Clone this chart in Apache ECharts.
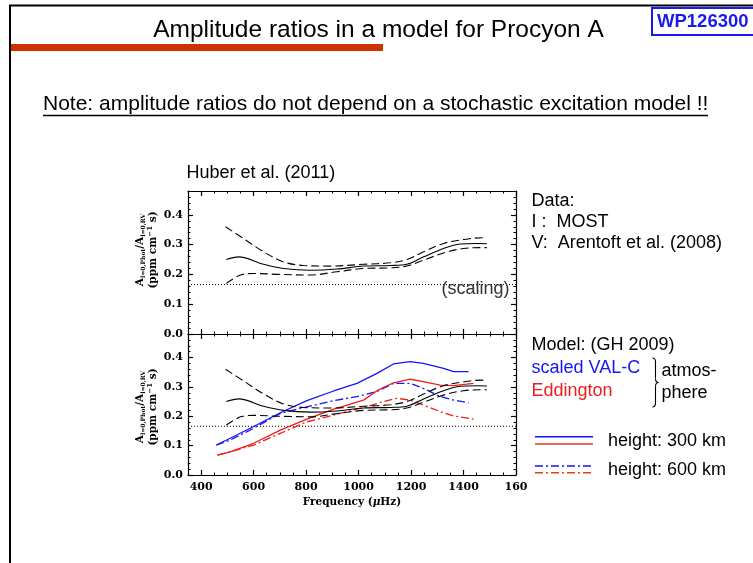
<!DOCTYPE html>
<html>
<head>
<meta charset="utf-8">
<script src="https://cdn.jsdelivr.net/npm/echarts@6/dist/echarts.min.js"></script>
<style>
html,body{margin:0;padding:0;background:#fff;}
#chart{width:753px;height:563px;}
</style>
</head>
<body>
<div id="chart"></div>
<script>
// ---------- data ----------
const xTickValues = [400, 600, 800, 1000, 1200, 1400, 1600];
const xTickLabels = ['400', '600', '800', '1000', '1200', '1400', '160'];
const yTickValues = [0.0, 0.1, 0.2, 0.3, 0.4];
const yTickLabels = ['0.0', '0.1', '0.2', '0.3', '0.4'];

// Huber et al. (2011): observed ratio (solid) and its upper/lower bounds (dashed)
const huberFreq  = [496, 543, 638, 714, 816, 918, 1019, 1121, 1184, 1248, 1324, 1387, 1451, 1489];
const huberRatio = [0.250, 0.259, 0.234, 0.220, 0.214, 0.218, 0.228, 0.230, 0.234, 0.259, 0.287, 0.302, 0.304, 0.303];
const upperFreq  = [493, 562, 638, 714, 790, 892, 1019, 1121, 1184, 1248, 1324, 1400, 1470, 1489];
const upperRatio = [0.360, 0.320, 0.276, 0.242, 0.230, 0.228, 0.234, 0.239, 0.250, 0.276, 0.304, 0.317, 0.323, 0.323];
const lowerFreq  = [496, 550, 600, 702, 816, 918, 1019, 1121, 1184, 1248, 1324, 1400, 1476, 1489];
const lowerRatio = [0.170, 0.198, 0.203, 0.200, 0.198, 0.209, 0.220, 0.222, 0.228, 0.248, 0.272, 0.287, 0.290, 0.290];

// scaling relation level
const scalingLevel = 0.166;
const scalingFreq = [350, 1600];

// Model (GH 2009)
const valc300Freq  = [458, 511, 600, 702, 803, 905, 994, 1070, 1133, 1197, 1247, 1324, 1362, 1419];
const valc300Ratio = [0.102, 0.125, 0.165, 0.212, 0.253, 0.286, 0.312, 0.346, 0.378, 0.386, 0.380, 0.363, 0.352, 0.352];
const valc600Freq  = [458, 511, 600, 702, 803, 905, 994, 1070, 1133, 1197, 1247, 1311, 1362, 1419];
const valc600Ratio = [0.102, 0.119, 0.159, 0.210, 0.232, 0.253, 0.267, 0.284, 0.312, 0.312, 0.295, 0.267, 0.255, 0.246];
const edd300Freq   = [462, 511, 600, 702, 803, 905, 1019, 1070, 1133, 1197, 1247, 1311, 1362, 1438];
const edd300Ratio  = [0.068, 0.079, 0.108, 0.153, 0.190, 0.224, 0.255, 0.287, 0.314, 0.326, 0.318, 0.306, 0.304, 0.312];
const edd600Freq   = [462, 511, 600, 702, 803, 905, 1019, 1095, 1146, 1197, 1247, 1311, 1362, 1438];
const edd600Ratio  = [0.068, 0.079, 0.102, 0.142, 0.181, 0.204, 0.230, 0.250, 0.261, 0.255, 0.238, 0.216, 0.201, 0.190];

// ---------- styling ----------
const X_MIN = 350, X_MAX = 1600, Y_MIN = 0, Y_MAX = 0.48;
const xMinor = []; for (let v = 400; v < 1600; v += 50) xMinor.push(v);
const yMinor = []; for (let i = 1; i < 24; i++) yMinor.push(+(i * 0.02).toFixed(2));
const BLUE = '#1414ff', RED = '#ee1c1c';
const SERIF = 'DejaVu Serif';
const SANS = 'Liberation Sans, Arial, sans-serif';
const TICKFONT = 11;

const grids = [
  {left: 188, top: 191, width: 328, height: 143, containLabel: false, outerBoundsMode: 'none'},
  {left: 188, top: 334, width: 328, height: 141, containLabel: false, outerBoundsMode: 'none'}
];

function xAxesFor(g, withLabels) {
  const base = {type: 'value', gridIndex: g, min: X_MIN, max: X_MAX, splitLine: {show: false}, minorTick: {show: false}};
  const line = {show: true, onZero: false, lineStyle: {color: '#000', width: 1.2}};
  return [
    Object.assign({}, base, {
      position: 'bottom', axisLine: line,
      axisTick: {show: true, inside: true, length: 5, customValues: xTickValues, lineStyle: {color: '#000', width: 1.2}},
      axisLabel: {show: withLabels, customValues: xTickValues, margin: 7, color: '#000',
        fontFamily: SERIF, fontWeight: 'bold', fontSize: TICKFONT,
        formatter: v => xTickLabels[xTickValues.indexOf(v)] || ''},
      name: withLabels ? '{a|Frequency (}{b|μ}{a|Hz)}' : '',
      nameLocation: 'middle', nameGap: 22,
      nameTextStyle: {rich: {
        a: {fontFamily: SERIF, fontWeight: 'bold', fontSize: 10.5, color: '#000'},
        b: {fontFamily: SERIF, fontWeight: 'bold', fontStyle: 'italic', fontSize: 10.5, color: '#000'}
      }}
    }),
    Object.assign({}, base, {
      position: 'bottom', axisLine: {show: false, onZero: false},
      axisTick: {show: true, inside: true, length: 2.5, customValues: xMinor, lineStyle: {color: '#000', width: 1}},
      axisLabel: {show: false}
    }),
    Object.assign({}, base, {
      position: 'top', axisLine: line,
      axisTick: {show: true, inside: true, length: 5, customValues: xTickValues, lineStyle: {color: '#000', width: 1.2}},
      axisLabel: {show: false}
    }),
    Object.assign({}, base, {
      position: 'top', axisLine: {show: false, onZero: false},
      axisTick: {show: true, inside: true, length: 2.5, customValues: xMinor, lineStyle: {color: '#000', width: 1}},
      axisLabel: {show: false}
    })
  ];
}

function yAxesFor(g) {
  const base = {type: 'value', gridIndex: g, min: Y_MIN, max: Y_MAX, splitLine: {show: false}, minorTick: {show: false}};
  const line = {show: true, onZero: false, lineStyle: {color: '#000', width: 1.2}};
  return [
    Object.assign({}, base, {
      position: 'left', axisLine: line,
      axisTick: {show: true, inside: true, length: 5, customValues: yTickValues, lineStyle: {color: '#000', width: 1.2}},
      axisLabel: {show: true, customValues: yTickValues, margin: 5, color: '#000',
        fontFamily: SERIF, fontWeight: 'bold', fontSize: TICKFONT,
        formatter: v => yTickLabels[yTickValues.indexOf(v)] || v.toFixed(1)}
    }),
    Object.assign({}, base, {
      position: 'left', axisLine: {show: false, onZero: false},
      axisTick: {show: true, inside: true, length: 2.5, customValues: yMinor, lineStyle: {color: '#000', width: 1}},
      axisLabel: {show: false}
    }),
    Object.assign({}, base, {
      position: 'right', axisLine: line,
      axisTick: {show: true, inside: true, length: 5, customValues: yTickValues, lineStyle: {color: '#000', width: 1.2}},
      axisLabel: {show: false}
    }),
    Object.assign({}, base, {
      position: 'right', axisLine: {show: false, onZero: false},
      axisTick: {show: true, inside: true, length: 2.5, customValues: yMinor, lineStyle: {color: '#000', width: 1}},
      axisLabel: {show: false}
    })
  ];
}

function curve(g, xs, ys, color, type, width, smooth) {
  return {
    type: 'line', xAxisIndex: g * 4, yAxisIndex: g * 4,
    data: xs.map((x, i) => [x, ys[i]]),
    showSymbol: false, symbol: 'none', smooth: smooth ? 0.35 : false,
    lineStyle: {color: color, width: width, type: type},
    silent: true, animation: false, z: 3
  };
}

const DASH = [8, 4], DOT = [1, 2], DASHDOT = [8, 3, 2, 3];
const series = [];
[0, 1].forEach(g => {
  series.push(curve(g, scalingFreq, [scalingLevel, scalingLevel], '#000', DOT, 1, false));
  if (g === 1) {
    series.push(curve(g, valc300Freq, valc300Ratio, BLUE, 'solid', 1.3, false));
    series.push(curve(g, valc600Freq, valc600Ratio, BLUE, DASHDOT, 1.3, false));
    series.push(curve(g, edd300Freq, edd300Ratio, RED, 'solid', 1.3, false));
    series.push(curve(g, edd600Freq, edd600Ratio, RED, DASHDOT, 1.3, false));
  }
  series.push(curve(g, huberFreq, huberRatio, '#000', 'solid', 1.1, true));
  series.push(curve(g, upperFreq, upperRatio, '#000', DASH, 1.1, true));
  series.push(curve(g, lowerFreq, lowerRatio, '#000', DASH, 1.1, true));
});

function txt(x, y, text, size, color) {
  return {
    type: 'text', x: x, y: y, silent: true, z: 10,
    style: {text: text, font: size + 'px ' + SANS, fill: color,
      align: 'left', verticalAlign: 'middle', textAlign: 'left', textVerticalAlign: 'middle'}
  };
}
function hline(x1, x2, y, color, width, dash) {
  return {type: 'line', silent: true, z: 10,
    shape: {x1: x1, y1: y, x2: x2, y2: y},
    style: {stroke: color, lineWidth: width, lineDash: dash || null}};
}
function seg(x1, y1, x2, y2, w) {
  return {type: 'line', silent: true, z: 10, shape: {x1: x1, y1: y1, x2: x2, y2: y2},
    style: {stroke: '#000', lineWidth: w || 1.1}};
}
function bez(x1, y1, cx, cy, x2, y2) {
  return {type: 'bezierCurve', silent: true, z: 10,
    shape: {x1: x1, y1: y1, cpx1: cx, cpy1: cy, x2: x2, y2: y2},
    style: {stroke: '#000', lineWidth: 1.1, fill: null}};
}
function yName(cx, cy) {
  return {
    type: 'text', x: cx, y: cy, rotation: Math.PI / 2, silent: true, z: 10,
    style: {
      text: '{a|A}{s|l=0,Phot}{a|/A}{s|l=0,RV}\n{b|(ppm cm}{p|−1}{b| s)}',
      align: 'center', verticalAlign: 'middle', textAlign: 'center', textVerticalAlign: 'middle',
      fill: '#000',
      rich: {
        a: {fontFamily: SERIF, fontWeight: 'bold', fontSize: 10.5, lineHeight: 13, fill: '#000'},
        s: {fontFamily: SERIF, fontWeight: 'bold', fontSize: 6, lineHeight: 6, verticalAlign: 'bottom', fill: '#000'},
        b: {fontFamily: SERIF, fontWeight: 'bold', fontSize: 10.5, lineHeight: 14, fill: '#000'},
        p: {fontFamily: SERIF, fontWeight: 'bold', fontSize: 7, lineHeight: 7, verticalAlign: 'top', fill: '#000'}
      }
    }
  };
}

const graphic = [
  // slide frame
  hline(9, 753, 5.5, '#000', 2),
  seg(10, 5, 10, 563, 2),
  {type: 'rect', silent: true, z: 9, shape: {x: 10, y: 44, width: 373, height: 7}, style: {fill: '#cc3300'}},
  // title
  {type: 'text', x: 378.5, y: 30, silent: true, z: 10,
    style: {text: 'Amplitude ratios in a model for Procyon A', font: '24.5px ' + SANS, fill: '#000',
      align: 'center', verticalAlign: 'middle', textAlign: 'center', textVerticalAlign: 'middle'}},
  {type: 'rect', silent: true, z: 10, shape: {x: 652, y: 8, width: 110, height: 27},
    style: {fill: '#fff', stroke: '#1a1aee', lineWidth: 2}},
  {type: 'text', x: 657, y: 22, silent: true, z: 11,
    style: {text: 'WP126300', font: 'bold 18.5px ' + SANS, fill: '#1a1aee',
      align: 'left', verticalAlign: 'middle', textAlign: 'left', textVerticalAlign: 'middle'}},
  // note
  txt(43, 104, 'Note: amplitude ratios do not depend on a stochastic excitation model !!', 21, '#000'),
  hline(43, 708, 115.5, '#000', 1.3),
  // panel caption
  txt(186.5, 173, 'Huber et al. (2011)', 18, '#000'),
  txt(441.5, 289, '(scaling)', 18, '#333'),
  // right-hand legend text
  txt(531.5, 201, 'Data:', 18, '#000'),
  txt(531.5, 222, 'I :  MOST', 18, '#000'),
  txt(531.5, 243.5, 'V:  Arentoft et al. (2008)', 18, '#000'),
  txt(531.5, 345, 'Model: (GH 2009)', 18, '#000'),
  txt(531.5, 368.5, 'scaled VAL-C', 18, BLUE),
  txt(531.5, 391.5, 'Eddington', 18, RED),
  txt(661.5, 371.5, 'atmos-', 18, '#000'),
  txt(661.5, 393, 'phere', 18, '#000'),
  // brace
  bez(652.5, 358, 655.5, 358, 655.5, 362),
  seg(655.5, 362, 655.5, 378.5),
  bez(655.5, 378.5, 655.5, 382.5, 658.5, 382.5),
  bez(658.5, 382.5, 655.5, 382.5, 655.5, 386.5),
  seg(655.5, 386.5, 655.5, 403),
  bez(655.5, 403, 655.5, 407, 652.5, 407),
  // line-style key
  hline(535, 593, 436.7, BLUE, 1.6),
  hline(535, 593, 444, '#d9401c', 1.6),
  hline(535, 593, 466, BLUE, 1.6, DASHDOT),
  hline(535, 593, 472.7, '#d9401c', 1.6, DASHDOT),
  txt(608, 441.5, 'height: 300 km', 18, '#000'),
  txt(608, 470, 'height: 600 km', 18, '#000'),
  // y-axis titles
  yName(147, 250),
  yName(147, 407)
];

const chart = echarts.init(document.getElementById('chart'), null, {renderer: 'canvas'});
chart.setOption({
  animation: false,
  backgroundColor: '#fff',
  grid: grids,
  xAxis: xAxesFor(0, false).concat(xAxesFor(1, true)),
  yAxis: yAxesFor(0).concat(yAxesFor(1)),
  series: series,
  graphic: graphic
});
</script>
</body>
</html>
